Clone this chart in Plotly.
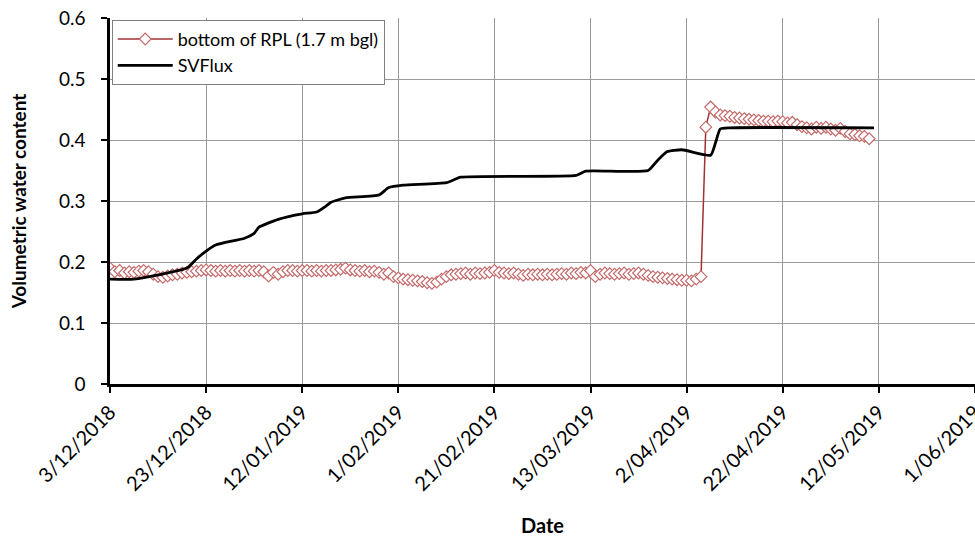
import pandas as pd
import plotly.graph_objects as go

# Measured VWC, bottom of RPL (1.7 m bgl), daily from 3/12/2018
rpl_start = "2018-12-03"
rpl_values = [
    0.190, 0.184, 0.186, 0.182, 0.184, 0.183, 0.185, 0.186, 0.184, 0.180,
    0.176, 0.175, 0.177, 0.179, 0.180, 0.182, 0.183, 0.184, 0.185, 0.186,
    0.187, 0.186, 0.185, 0.186, 0.185, 0.186, 0.185, 0.186, 0.185, 0.186,
    0.185, 0.186, 0.184, 0.177, 0.183, 0.180, 0.184, 0.186, 0.186, 0.185,
    0.186, 0.186, 0.185, 0.186, 0.185, 0.186, 0.186, 0.187, 0.188, 0.190,
    0.187, 0.186, 0.185, 0.186, 0.184, 0.185, 0.183, 0.180, 0.182, 0.176,
    0.174, 0.172, 0.171, 0.170, 0.169, 0.168, 0.166, 0.165, 0.167, 0.172,
    0.176, 0.179, 0.180, 0.181, 0.182, 0.180, 0.182, 0.181, 0.182, 0.183,
    0.186, 0.183, 0.182, 0.181, 0.182, 0.180, 0.178, 0.180, 0.179, 0.180,
    0.179, 0.180, 0.179, 0.180, 0.181, 0.180, 0.182, 0.181, 0.183, 0.182,
    0.186, 0.176, 0.180, 0.182, 0.181, 0.180, 0.181, 0.182, 0.180, 0.181,
    0.182, 0.180, 0.178, 0.176, 0.175, 0.174, 0.173, 0.172, 0.171, 0.170,
    0.170, 0.169, 0.172, 0.176, 0.421, 0.454, 0.446, 0.441, 0.440, 0.439,
    0.437, 0.436, 0.435, 0.434, 0.433, 0.432, 0.431, 0.431, 0.430, 0.431,
    0.430, 0.428, 0.429, 0.425, 0.422, 0.420, 0.418, 0.421, 0.419, 0.421,
    0.418, 0.416, 0.419, 0.414, 0.410, 0.409, 0.407, 0.406, 0.402,
]
rpl_dates = pd.date_range(rpl_start, periods=len(rpl_values), freq="D")

# SVFlux simulated VWC (vertices)
svflux_dates = [
    "2018-12-03", "2018-12-08", "2018-12-19", "2018-12-21", "2018-12-23",
    "2018-12-25", "2018-12-31", "2019-01-02", "2019-01-03", "2019-01-07",
    "2019-01-12", "2019-01-15", "2019-01-17", "2019-01-18", "2019-01-21",
    "2019-01-28", "2019-01-30", "2019-02-02", "2019-02-11", "2019-02-14",
    "2019-03-10", "2019-03-12", "2019-03-25", "2019-03-27", "2019-03-29",
    "2019-04-01", "2019-04-07", "2019-04-08", "2019-04-09", "2019-04-11",
    "2019-05-11",
]
svflux_values = [
    0.172, 0.172, 0.190, 0.205, 0.218,
    0.228, 0.239, 0.247, 0.257, 0.270,
    0.279, 0.282, 0.292, 0.298, 0.305,
    0.310, 0.322, 0.326, 0.330, 0.339,
    0.342, 0.349, 0.350, 0.367, 0.381,
    0.384, 0.375, 0.395, 0.418, 0.420,
    0.420,
]

tick_dates = ["2018-12-03", "2018-12-23", "2019-01-12", "2019-02-01", "2019-02-21",
              "2019-03-13", "2019-04-02", "2019-04-22", "2019-05-12", "2019-06-01"]
tick_labels = ["3/12/2018", "23/12/2018", "12/01/2019", "1/02/2019", "21/02/2019",
               "13/03/2019", "2/04/2019", "22/04/2019", "12/05/2019", "1/06/2019"]
y_ticks = [0, 0.1, 0.2, 0.3, 0.4, 0.5, 0.6]
y_labels = ["0", "0.1", "0.2", "0.3", "0.4", "0.5", "0.6"]

FONT = "Lato, 'DejaVu Sans', sans-serif"

fig = go.Figure()
fig.add_trace(go.Scatter(
    x=rpl_dates, y=rpl_values, mode="lines+markers",
    name="bottom of RPL (1.7 m bgl)",
    line=dict(color="#a03232", width=1.5),
    marker=dict(symbol="diamond", size=9, color="white",
                line=dict(color="#c46a6a", width=1.2)),
))
fig.add_trace(go.Scatter(
    x=svflux_dates, y=svflux_values, mode="lines", name="SVFlux",
    line=dict(color="black", width=2.8, shape="spline", smoothing=0.5),
))

fig.update_layout(
    width=975, height=537,
    margin=dict(l=110, r=0, t=18, b=153),
    paper_bgcolor="white", plot_bgcolor="white",
    font=dict(family=FONT, size=17, color="black"),
    showlegend=True,
    legend=dict(x=0.002, y=0.995, xanchor="left", yanchor="top",
                bgcolor="white", bordercolor="#808080", borderwidth=1,
                font=dict(size=18), tracegroupgap=0, itemwidth=55),
    xaxis=dict(
        range=["2018-12-03", "2019-06-01 00:30"],
        tickmode="array", tickvals=tick_dates, ticktext=tick_labels,
        tickangle=-45, ticks="outside", ticklen=6, tickwidth=2, tickcolor="black",
        ticklabeloverflow="allow",
        showgrid=True, gridcolor="#9a9a9a", gridwidth=1,
        showline=True, linecolor="black", linewidth=2.5,
        zeroline=False, automargin=False,
        title=dict(text="<b>Date</b>", font=dict(size=20), standoff=30),
        tickfont=dict(size=20),
    ),
    yaxis=dict(
        range=[0, 0.6],
        tickmode="array", tickvals=y_ticks, ticktext=y_labels,
        ticks="outside", ticklen=6, tickwidth=2, tickcolor="black",
        ticklabelstandoff=12,
        showgrid=True, gridcolor="#9a9a9a", gridwidth=1,
        showline=True, linecolor="black", linewidth=2.5,
        zeroline=False, automargin=False,
        title=dict(text="<b>Volumetric water content</b>", font=dict(size=19), standoff=28),
        tickfont=dict(size=19),
    ),
)

fig.write_html("out.html", config={"displayModeBar": False},
               post_script="document.body.style.margin='0';document.body.style.overflow='hidden';")
